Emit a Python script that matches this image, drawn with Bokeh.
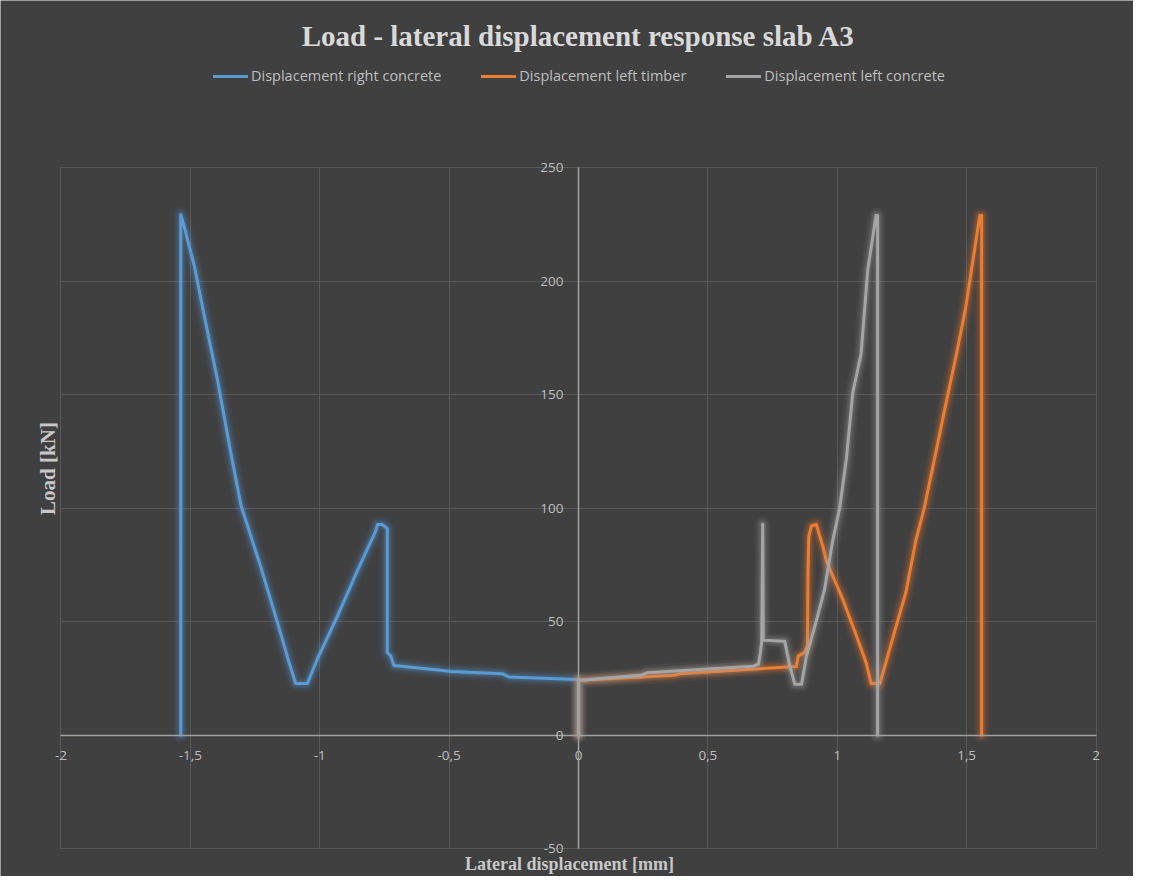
import math
from bokeh.plotting import figure
from bokeh.models import Legend, LegendItem, Label, FixedTicker, CustomJSTickFormatter, Range1d
from bokeh.embed import file_html
from bokeh.resources import INLINE

# ---------------- data ----------------
x_ticks = [-2, -1.5, -1, -0.5, 0, 0.5, 1, 1.5, 2]
y_ticks = [-50, 0, 50, 100, 150, 200, 250]

right_concrete_x = [0.0, 0.0, -0.005, -0.269, -0.295, -0.494, -0.533, -0.713, -0.726, -0.739, -0.739,
                    -0.758, -0.777, -0.784, -0.854, -0.932, -1.009, -1.048, -1.093, -1.119, -1.163,
                    -1.228, -1.305, -1.344, -1.395, -1.447, -1.485, -1.524, -1.537, -1.537]
right_concrete_y = [0.0, 24.5, 24.5, 25.6, 27.0, 28.0, 28.5, 30.6, 34.9, 36.4, 90.9,
                    92.7, 92.7, 89.8, 72.5, 52.3, 33.5, 22.7, 22.7, 32.1, 49.4,
                    74.0, 101.4, 124.5, 156.3, 185.1, 206.8, 224.0, 229.2, 0.0]

left_timber_x = [0.0, 0.0, 0.008, 0.368, 0.394, 0.842, 0.849, 0.874, 0.885, 0.887, 0.890, 0.900,
                 0.919, 0.945, 0.958, 1.022, 1.073, 1.112, 1.131, 1.165, 1.214, 1.265, 1.304,
                 1.336, 1.381, 1.426, 1.458, 1.496, 1.551, 1.558, 1.558]
left_timber_y = [0.0, 24.5, 24.1, 26.3, 27.0, 30.2, 34.8, 36.4, 39.4, 71.9, 87.4, 92.0,
                 92.8, 82.8, 76.6, 59.6, 44.1, 31.7, 22.7, 22.7, 42.5, 62.7, 85.9,
                 99.8, 124.5, 149.3, 166.3, 188.0, 228.9, 228.9, 0.0]

left_concrete_x = [0.0, 0.0, 0.008, 0.239, 0.265, 0.677, 0.696, 0.703, 0.708, 0.712, 0.714, 0.797,
                   0.817, 0.836, 0.862, 0.881, 0.919, 0.951, 0.983, 1.009, 1.035, 1.060, 1.092,
                   1.118, 1.150, 1.156, 1.156]
left_concrete_y = [0.0, 24.5, 24.1, 26.3, 27.4, 30.3, 31.3, 36.4, 41.0, 92.8, 41.8, 41.3,
                   30.2, 22.4, 22.4, 34.8, 50.3, 64.2, 85.9, 99.8, 121.4, 150.8, 167.8,
                   205.0, 228.9, 228.9, 0.0]

series_names = ["Displacement right concrete", "Displacement left timber", "Displacement left concrete"]
series_colors = ["#5b9bd5", "#ed7d31", "#a5a5a5"]

chart_title = "Load - lateral displacement response slab A3"
x_label = "Lateral displacement [mm]"
y_label = "Load [kN]"

# ---------------- figure ----------------
BG = "#404040"
GRID = "#595959"
TXT = "#bfbfbf"
W, H = 1133, 876

p = figure(width=W, height=H, output_backend="svg", toolbar_location=None,
           x_range=Range1d(-2.2338, 2.1449), y_range=Range1d(-62.33, 323.57),
           background_fill_color=BG, border_fill_color=BG,
           min_border=0, min_border_left=0, min_border_right=0, min_border_top=0, min_border_bottom=0)
p.outline_line_color = None

p.xaxis.bounds = (-2, 2)
p.yaxis.bounds = (-50, 250)
for ax in (p.xaxis[0], p.yaxis[0]):
    ax.fixed_location = 0
    ax.axis_line_color = "#a0a0a0"
    ax.axis_line_width = 1.5
    ax.major_tick_in = 0
    ax.major_tick_out = 0
    ax.minor_tick_in = 0
    ax.minor_tick_out = 0
    ax.major_label_text_color = TXT
    ax.major_label_text_font = "Open Sans"
    ax.major_label_text_font_size = "13.5px"
    ax.formatter = CustomJSTickFormatter(code="return tick.toString().replace('.', ',')")
p.xaxis.major_label_standoff = 16
p.yaxis.major_label_standoff = 15

p.xaxis.ticker = FixedTicker(ticks=x_ticks)
p.yaxis.ticker = FixedTicker(ticks=y_ticks)
p.xgrid.ticker = FixedTicker(ticks=x_ticks)
p.ygrid.ticker = FixedTicker(ticks=y_ticks)
p.xgrid.bounds = (-2, 2)
p.xgrid.cross_bounds = (-50, 250)
p.ygrid.bounds = (-50, 250)
p.ygrid.cross_bounds = (-2, 2)
p.grid.grid_line_color = GRID
p.grid.grid_line_width = 1

# ---------------- series with glow ----------------
data = [(right_concrete_x, right_concrete_y), (left_timber_x, left_timber_y), (left_concrete_x, left_concrete_y)]
main = []
for (xs, ys), col in zip(data, series_colors):
    for w, a in [(16, 0.06), (12, 0.08), (9, 0.11), (6, 0.16)]:
        p.line(xs, ys, line_color=col, line_width=w, line_alpha=a, line_join="round", line_cap="round")
    r = p.line(xs, ys, line_color=col, line_width=3, line_join="round", line_cap="round")
    main.append(r)

# ---------------- legend ----------------
legend = Legend(items=[LegendItem(label=n, renderers=[r]) for n, r in zip(series_names, main)],
                orientation="horizontal", location=(213, H - 77 - 8),
                background_fill_alpha=0, border_line_alpha=0,
                label_text_color=TXT, label_text_font="Open Sans", label_text_font_size="14.5px",
                label_height=16, glyph_height=16, glyph_width=35, label_standoff=3,
                spacing=40, padding=0, margin=0)
p.add_layout(legend, "center")

# ---------------- titles ----------------
p.add_layout(Label(x=578, y=H - 35, x_units="screen", y_units="screen", text=chart_title,
                   text_align="center", text_baseline="middle",
                   text_font="Liberation Serif", text_font_size="29px", text_font_style="bold",
                   text_color="#d9d9d9"))
p.add_layout(Label(x=569, y=H - 863, x_units="screen", y_units="screen", text=x_label,
                   text_align="center", text_baseline="middle",
                   text_font="Liberation Serif", text_font_size="18px", text_font_style="bold",
                   text_color="#c8c8c8"))
p.add_layout(Label(x=47, y=H - 468, x_units="screen", y_units="screen", text=y_label,
                   angle=math.pi / 2, text_align="center", text_baseline="middle",
                   text_font="Liberation Serif", text_font_size="21px", text_font_style="bold",
                   text_color="#c8c8c8"))

open("out.html", "w").write(file_html(p, INLINE))
